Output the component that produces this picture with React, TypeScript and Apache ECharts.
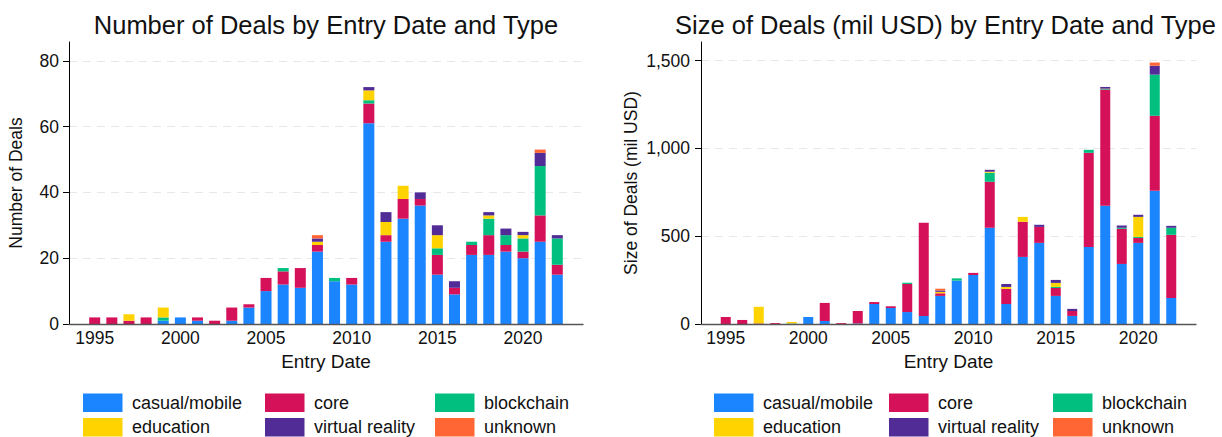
import React, { useEffect, useRef } from "react";
import * as echarts from "echarts";

const years = [1995, 1996, 1997, 1998, 1999, 2000, 2001, 2002, 2003, 2004, 2005, 2006, 2007, 2008, 2009, 2010, 2011, 2012, 2013, 2014, 2015, 2016, 2017, 2018, 2019, 2020, 2021, 2022];

const typeNames = ["casual/mobile", "core", "blockchain", "education", "virtual reality", "unknown"];
const typeColors = ["#1A85FF", "#D41159", "#00BF7F", "#FFD300", "#512C96", "#FF6633"];

// Number of deals
const countCasual = [0, 0, 0, 0, 1, 2, 1, 0, 1, 5, 10, 12, 11, 22, 13, 12, 61, 25, 32, 36, 15, 9, 21, 21, 22, 20, 25, 15];
const countCore = [2, 2, 1, 2, 0, 0, 1, 1, 4, 1, 4, 4, 6, 2, 0, 2, 6, 2, 6, 2, 6, 2, 3, 6, 2, 2, 8, 3];
const countBlockchain = [0, 0, 0, 0, 1, 0, 0, 0, 0, 0, 0, 1, 0, 0, 1, 0, 1, 0, 0, 0, 2, 0, 1, 5, 3, 4, 15, 8];
const countEducation = [0, 0, 2, 0, 3, 0, 0, 0, 0, 0, 0, 0, 0, 1, 0, 0, 3, 4, 4, 0, 4, 0, 0, 1, 0, 1, 0, 0];
const countVR = [0, 0, 0, 0, 0, 0, 0, 0, 0, 0, 0, 0, 0, 1, 0, 0, 1, 3, 0, 2, 3, 2, 0, 1, 2, 1, 4, 1];
const countUnknown = [0, 0, 0, 0, 0, 0, 0, 0, 0, 0, 0, 0, 0, 1, 0, 0, 0, 0, 0, 0, 0, 0, 0, 0, 0, 0, 1, 0];

// Size of deals (mil USD)
const sizeCasual = [0, 0, 0, 0, 2, 40, 17, 0, 3, 114, 91, 68, 46, 160, 247, 279, 548, 114, 382, 462, 160, 46, 439, 673, 342, 462, 759, 148];
const sizeCore = [40, 23, 3, 5, 0, 0, 103, 5, 71, 11, 10, 160, 530, 15, 0, 12, 262, 86, 200, 91, 45, 28, 536, 662, 200, 28, 427, 360];
const sizeBlockchain = [0, 0, 0, 0, 1, 0, 0, 0, 0, 0, 0, 7, 0, 0, 13, 0, 51, 0, 0, 0, 6, 0, 17, 3, 6, 6, 234, 40];
const sizeEducation = [0, 0, 95, 0, 9, 0, 0, 0, 0, 0, 0, 0, 0, 8, 0, 0, 6, 11, 28, 0, 23, 0, 0, 2, 0, 114, 0, 0];
const sizeVR = [0, 0, 0, 0, 0, 0, 0, 0, 0, 0, 0, 0, 0, 8, 0, 0, 11, 17, 0, 12, 17, 12, 0, 10, 13, 12, 51, 11];
const sizeUnknown = [0, 0, 0, 0, 0, 0, 0, 0, 0, 0, 0, 0, 0, 10, 0, 0, 0, 0, 0, 0, 0, 0, 0, 0, 0, 0, 18, 0];

const countTicks = [0, 20, 40, 60, 80];
const sizeTicks = [0, 500, 1000, 1500];
const yearTicks = [1995, 2000, 2005, 2010, 2015, 2020];

const countSeries = [countCasual, countCore, countBlockchain, countEducation, countVR, countUnknown];
const sizeSeries = [sizeCasual, sizeCore, sizeBlockchain, sizeEducation, sizeVR, sizeUnknown];

const FONT = "'Liberation Sans', Arial, Helvetica, sans-serif";

function buildOption() {
  // one empty band on each side of the data, as in the reference
  const categories = [years[0] - 1, ...years, years[years.length - 1] + 1].map(String);

  const grids = [
    { left: 69, top: 42, width: 514, height: 282 },
    { left: 701, top: 42, width: 495, height: 282 },
  ];
  const xAxes = [0, 1].map((k) => ({
    type: "category",
    gridIndex: k,
    data: categories,
    boundaryGap: true,
    z: 5,
    name: "Entry Date",
    nameLocation: "middle",
    nameGap: 27,
    nameTextStyle: { fontSize: 19, color: "#111", fontFamily: FONT },
    axisLine: { show: true, lineStyle: { color: "#555", width: 1.4 } },
    axisTick: { show: false },
    splitLine: { show: false },
    axisLabel: {
      interval: (_i: number, v: string) => yearTicks.indexOf(Number(v)) >= 0,
      fontSize: 17.5,
      color: "#111",
      margin: 5,
      fontFamily: FONT,
    },
  }));
  const yAxes = [
    {
      type: "value",
      gridIndex: 0,
      min: 0,
      max: 85.7,
      name: "Number of Deals",
      nameLocation: "middle",
      nameRotate: 90,
      nameGap: 44,
      nameTextStyle: { fontSize: 17.5, color: "#111", fontFamily: FONT },
      axisLine: { show: true, lineStyle: { color: "#000", width: 1 } },
      axisTick: { show: true, length: 6, customValues: countTicks, lineStyle: { color: "#000" } },
      axisLabel: { customValues: countTicks, fontSize: 17.5, color: "#111", margin: 10, fontFamily: FONT },
      splitLine: { show: true, lineStyle: { color: "#e8e8e8", type: [8, 6], width: 1.2 } },
    },
    {
      type: "value",
      gridIndex: 1,
      min: 0,
      max: 1606,
      name: "Size of Deals (mil USD)",
      nameLocation: "middle",
      nameRotate: 90,
      nameGap: 61,
      nameTextStyle: { fontSize: 17.5, color: "#111", fontFamily: FONT },
      axisLine: { show: true, lineStyle: { color: "#000", width: 1 } },
      axisTick: { show: true, length: 6, customValues: sizeTicks, lineStyle: { color: "#000" } },
      axisLabel: {
        customValues: sizeTicks,
        fontSize: 17.5,
        color: "#111",
        margin: 11,
        fontFamily: FONT,
        formatter: (v: number) => v.toLocaleString("en-US"),
      },
      splitLine: { show: true, lineStyle: { color: "#e8e8e8", type: [8, 6], width: 1.2 } },
    },
  ];

  const series: any[] = [];
  [countSeries, sizeSeries].forEach((group, k) => {
    group.forEach((vals, i) => {
      series.push({
        type: "bar",
        name: typeNames[i],
        xAxisIndex: k,
        yAxisIndex: k,
        stack: "stack" + k,
        barWidth: k === 0 ? 11 : 10,
        itemStyle: { color: typeColors[i] },
        data: ["-", ...vals, "-"],
      });
    });
  });

  const legendCols = [
    ["casual/mobile", "education"],
    ["core", "virtual reality"],
    ["blockchain", "unknown"],
  ];
  const legendLefts = [
    [83, 265, 435],
    [714, 889, 1053],
  ];
  const legends: any[] = [];
  legendLefts.forEach((lefts) => {
    lefts.forEach((left, c) => {
      legends.push({
        left,
        top: 393.5,
        orient: "vertical",
        padding: 0,
        itemGap: 6,
        itemWidth: 39.5,
        itemHeight: 18.5,
        icon: "rect",
        selectedMode: false,
        data: legendCols[c],
        textStyle: {
          fontSize: 18,
          color: "#111",
          fontFamily: FONT,
          lineHeight: 18,
          padding: [0, 0, 0, 4.5],
        },
      });
    });
  });

  return {
    animation: false,
    backgroundColor: "#fff",
    textStyle: { fontFamily: FONT },
    title: [
      {
        text: "Number of Deals by Entry Date and Type",
        left: 326,
        top: 12,
        padding: 0,
        textAlign: "center",
        textStyle: { fontSize: 25.5, fontWeight: "normal", color: "#111", fontFamily: FONT },
      },
      {
        text: "Size of Deals (mil USD) by Entry Date and Type",
        left: 945.5,
        top: 12,
        padding: 0,
        textAlign: "center",
        textStyle: { fontSize: 25.5, fontWeight: "normal", color: "#111", fontFamily: FONT },
      },
    ],
    legend: legends,
    grid: grids,
    xAxis: xAxes,
    yAxis: yAxes,
    series,
  };
}

export default function App() {
  const ref = useRef<HTMLDivElement>(null);
  useEffect(() => {
    if (!ref.current) return;
    const chart = echarts.init(ref.current, undefined, { renderer: "svg" });
    chart.setOption(buildOption() as any);
    return () => chart.dispose();
  }, []);
  return (
    <div
      ref={ref}
      style={{ position: "fixed", left: 0, top: 0, width: 1222, height: 437, background: "#fff" }}
    />
  );
}
